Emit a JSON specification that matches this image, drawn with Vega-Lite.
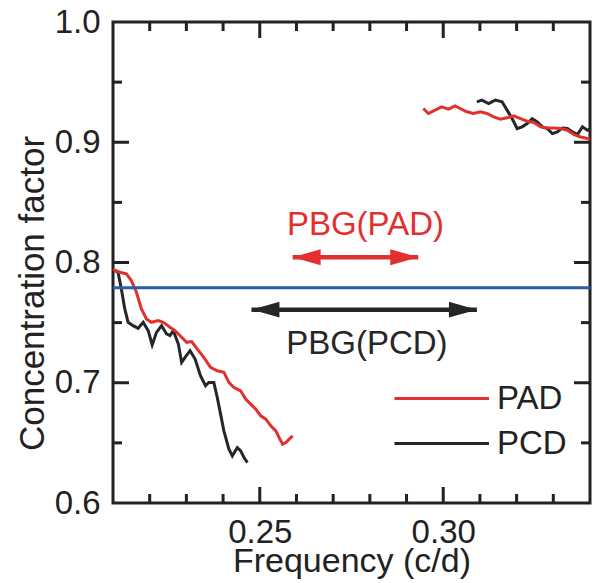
{
  "$schema": "https://vega.github.io/schema/vega-lite/v6.json",
  "width": 477,
  "height": 481,
  "autosize": {"type": "none"},
  "padding": {"left": 113, "top": 22, "right": 5, "bottom": 80},
  "background": "white",
  "config": {
    "view": {"stroke": "#222222", "strokeWidth": 3},
    "axis": {
      "grid": false, "domain": false, "ticks": false, "zindex": 1,
      "labelFont": "Liberation Sans", "titleFont": "Liberation Sans",
      "labelColor": "#222222", "titleColor": "#222222",
      "labelFontSize": 33, "titleFontSize": 34, "titleFontWeight": "normal",
      "labelFlush": false, "labelOverlap": false
    },
    "tick": {"opacity": 1, "color": "#222222", "thickness": 3},
    "text": {"font": "Liberation Sans"}
  },
  "datasets": {
    "curves": [
      {"series": "PCD", "seg": "low", "f": 0.21047, "c": 0.7933},
      {"series": "PCD", "seg": "low", "f": 0.21137, "c": 0.7919},
      {"series": "PCD", "seg": "low", "f": 0.21227, "c": 0.7781},
      {"series": "PCD", "seg": "low", "f": 0.21321, "c": 0.7614},
      {"series": "PCD", "seg": "low", "f": 0.21411, "c": 0.7503},
      {"series": "PCD", "seg": "low", "f": 0.21548, "c": 0.7475},
      {"series": "PCD", "seg": "low", "f": 0.21685, "c": 0.7453},
      {"series": "PCD", "seg": "low", "f": 0.21822, "c": 0.7503},
      {"series": "PCD", "seg": "low", "f": 0.21959, "c": 0.7433},
      {"series": "PCD", "seg": "low", "f": 0.22068, "c": 0.7314},
      {"series": "PCD", "seg": "low", "f": 0.22186, "c": 0.7419},
      {"series": "PCD", "seg": "low", "f": 0.22323, "c": 0.7475},
      {"series": "PCD", "seg": "low", "f": 0.22460, "c": 0.7406},
      {"series": "PCD", "seg": "low", "f": 0.22553, "c": 0.7392},
      {"series": "PCD", "seg": "low", "f": 0.22644, "c": 0.7433},
      {"series": "PCD", "seg": "low", "f": 0.22781, "c": 0.7322},
      {"series": "PCD", "seg": "low", "f": 0.22871, "c": 0.7169},
      {"series": "PCD", "seg": "low", "f": 0.22964, "c": 0.7211},
      {"series": "PCD", "seg": "low", "f": 0.23101, "c": 0.7267},
      {"series": "PCD", "seg": "low", "f": 0.23238, "c": 0.7197},
      {"series": "PCD", "seg": "low", "f": 0.23384, "c": 0.7058},
      {"series": "PCD", "seg": "low", "f": 0.23521, "c": 0.6975},
      {"series": "PCD", "seg": "low", "f": 0.23611, "c": 0.7003},
      {"series": "PCD", "seg": "low", "f": 0.23748, "c": 0.7003},
      {"series": "PCD", "seg": "low", "f": 0.23841, "c": 0.6878},
      {"series": "PCD", "seg": "low", "f": 0.23932, "c": 0.6739},
      {"series": "PCD", "seg": "low", "f": 0.24022, "c": 0.6600},
      {"series": "PCD", "seg": "low", "f": 0.24159, "c": 0.6447},
      {"series": "PCD", "seg": "low", "f": 0.24252, "c": 0.6392},
      {"series": "PCD", "seg": "low", "f": 0.24389, "c": 0.6461},
      {"series": "PCD", "seg": "low", "f": 0.24479, "c": 0.6433},
      {"series": "PCD", "seg": "low", "f": 0.24570, "c": 0.6378},
      {"series": "PCD", "seg": "low", "f": 0.24663, "c": 0.6336},
      {"series": "PCD", "seg": "high", "f": 0.30918, "c": 0.9336},
      {"series": "PCD", "seg": "high", "f": 0.31055, "c": 0.9350},
      {"series": "PCD", "seg": "high", "f": 0.31238, "c": 0.9322},
      {"series": "PCD", "seg": "high", "f": 0.31419, "c": 0.9350},
      {"series": "PCD", "seg": "high", "f": 0.31603, "c": 0.9336},
      {"series": "PCD", "seg": "high", "f": 0.31740, "c": 0.9267},
      {"series": "PCD", "seg": "high", "f": 0.31877, "c": 0.9197},
      {"series": "PCD", "seg": "high", "f": 0.32014, "c": 0.9114},
      {"series": "PCD", "seg": "high", "f": 0.32151, "c": 0.9128},
      {"series": "PCD", "seg": "high", "f": 0.32288, "c": 0.9156},
      {"series": "PCD", "seg": "high", "f": 0.32425, "c": 0.9197},
      {"series": "PCD", "seg": "high", "f": 0.32562, "c": 0.9169},
      {"series": "PCD", "seg": "high", "f": 0.32699, "c": 0.9128},
      {"series": "PCD", "seg": "high", "f": 0.32836, "c": 0.9114},
      {"series": "PCD", "seg": "high", "f": 0.32973, "c": 0.9072},
      {"series": "PCD", "seg": "high", "f": 0.33110, "c": 0.9086},
      {"series": "PCD", "seg": "high", "f": 0.33247, "c": 0.9119},
      {"series": "PCD", "seg": "high", "f": 0.33384, "c": 0.9114},
      {"series": "PCD", "seg": "high", "f": 0.33521, "c": 0.9086},
      {"series": "PCD", "seg": "high", "f": 0.33658, "c": 0.9064},
      {"series": "PCD", "seg": "high", "f": 0.33795, "c": 0.9128},
      {"series": "PCD", "seg": "high", "f": 0.33932, "c": 0.9100},
      {"series": "PCD", "seg": "high", "f": 0.34068, "c": 0.9119},
      {"series": "PAD", "seg": "low", "f": 0.21000, "c": 0.7942},
      {"series": "PAD", "seg": "low", "f": 0.21184, "c": 0.7919},
      {"series": "PAD", "seg": "low", "f": 0.21364, "c": 0.7906},
      {"series": "PAD", "seg": "low", "f": 0.21501, "c": 0.7850},
      {"series": "PAD", "seg": "low", "f": 0.21638, "c": 0.7753},
      {"series": "PAD", "seg": "low", "f": 0.21775, "c": 0.7614},
      {"series": "PAD", "seg": "low", "f": 0.21912, "c": 0.7531},
      {"series": "PAD", "seg": "low", "f": 0.22049, "c": 0.7503},
      {"series": "PAD", "seg": "low", "f": 0.22233, "c": 0.7517},
      {"series": "PAD", "seg": "low", "f": 0.22370, "c": 0.7503},
      {"series": "PAD", "seg": "low", "f": 0.22553, "c": 0.7461},
      {"series": "PAD", "seg": "low", "f": 0.22690, "c": 0.7433},
      {"series": "PAD", "seg": "low", "f": 0.22871, "c": 0.7378},
      {"series": "PAD", "seg": "low", "f": 0.23008, "c": 0.7336},
      {"series": "PAD", "seg": "low", "f": 0.23145, "c": 0.7342},
      {"series": "PAD", "seg": "low", "f": 0.23293, "c": 0.7281},
      {"series": "PAD", "seg": "low", "f": 0.23474, "c": 0.7211},
      {"series": "PAD", "seg": "low", "f": 0.23658, "c": 0.7128},
      {"series": "PAD", "seg": "low", "f": 0.23841, "c": 0.7100},
      {"series": "PAD", "seg": "low", "f": 0.24022, "c": 0.7086},
      {"series": "PAD", "seg": "low", "f": 0.24159, "c": 0.7003},
      {"series": "PAD", "seg": "low", "f": 0.24296, "c": 0.6961},
      {"series": "PAD", "seg": "low", "f": 0.24479, "c": 0.6933},
      {"series": "PAD", "seg": "low", "f": 0.24616, "c": 0.6864},
      {"series": "PAD", "seg": "low", "f": 0.24753, "c": 0.6822},
      {"series": "PAD", "seg": "low", "f": 0.24890, "c": 0.6781},
      {"series": "PAD", "seg": "low", "f": 0.25027, "c": 0.6725},
      {"series": "PAD", "seg": "low", "f": 0.25164, "c": 0.6697},
      {"series": "PAD", "seg": "low", "f": 0.25301, "c": 0.6642},
      {"series": "PAD", "seg": "low", "f": 0.25438, "c": 0.6600},
      {"series": "PAD", "seg": "low", "f": 0.25529, "c": 0.6544},
      {"series": "PAD", "seg": "low", "f": 0.25622, "c": 0.6489},
      {"series": "PAD", "seg": "low", "f": 0.25712, "c": 0.6503},
      {"series": "PAD", "seg": "low", "f": 0.25803, "c": 0.6531},
      {"series": "PAD", "seg": "low", "f": 0.25896, "c": 0.6558},
      {"series": "PAD", "seg": "high", "f": 0.29458, "c": 0.9281},
      {"series": "PAD", "seg": "high", "f": 0.29595, "c": 0.9239},
      {"series": "PAD", "seg": "high", "f": 0.29775, "c": 0.9267},
      {"series": "PAD", "seg": "high", "f": 0.29959, "c": 0.9294},
      {"series": "PAD", "seg": "high", "f": 0.30142, "c": 0.9275},
      {"series": "PAD", "seg": "high", "f": 0.30323, "c": 0.9303},
      {"series": "PAD", "seg": "high", "f": 0.30460, "c": 0.9281},
      {"series": "PAD", "seg": "high", "f": 0.30644, "c": 0.9253},
      {"series": "PAD", "seg": "high", "f": 0.30827, "c": 0.9239},
      {"series": "PAD", "seg": "high", "f": 0.31008, "c": 0.9253},
      {"series": "PAD", "seg": "high", "f": 0.31192, "c": 0.9239},
      {"series": "PAD", "seg": "high", "f": 0.31375, "c": 0.9211},
      {"series": "PAD", "seg": "high", "f": 0.31556, "c": 0.9192},
      {"series": "PAD", "seg": "high", "f": 0.31740, "c": 0.9203},
      {"series": "PAD", "seg": "high", "f": 0.31923, "c": 0.9219},
      {"series": "PAD", "seg": "high", "f": 0.32104, "c": 0.9197},
      {"series": "PAD", "seg": "high", "f": 0.32288, "c": 0.9175},
      {"series": "PAD", "seg": "high", "f": 0.32471, "c": 0.9164},
      {"series": "PAD", "seg": "high", "f": 0.32652, "c": 0.9128},
      {"series": "PAD", "seg": "high", "f": 0.32836, "c": 0.9119},
      {"series": "PAD", "seg": "high", "f": 0.33019, "c": 0.9119},
      {"series": "PAD", "seg": "high", "f": 0.33200, "c": 0.9114},
      {"series": "PAD", "seg": "high", "f": 0.33384, "c": 0.9100},
      {"series": "PAD", "seg": "high", "f": 0.33567, "c": 0.9064},
      {"series": "PAD", "seg": "high", "f": 0.33748, "c": 0.9044},
      {"series": "PAD", "seg": "high", "f": 0.33932, "c": 0.9031},
      {"series": "PAD", "seg": "high", "f": 0.34115, "c": 0.9017}
    ],
    "arrows": [
      {"series": "PAD", "x1": 0.25896, "x2": 0.2932, "y": 0.8044},
      {"series": "PCD", "x1": 0.24773, "x2": 0.30918, "y": 0.7608}
    ],
    "labels": [
      {"series": "PAD", "label": "PBG(PAD)", "f": 0.2788, "c": 0.8308},
      {"series": "PCD", "label": "PBG(PCD)", "f": 0.2792, "c": 0.7325}
    ],
    "legend": [
      {"series": "PAD", "f1": 0.28671, "f2": 0.31247, "ft": 0.31466, "c": 0.6869},
      {"series": "PCD", "f1": 0.28671, "f2": 0.31247, "ft": 0.31466, "c": 0.6494}
    ],
    "xticks": [
      {"v": 0.22, "kind": "minor"}, {"v": 0.23, "kind": "minor"}, {"v": 0.24, "kind": "minor"},
      {"v": 0.25, "kind": "major"}, {"v": 0.26, "kind": "minor"}, {"v": 0.27, "kind": "minor"},
      {"v": 0.28, "kind": "minor"}, {"v": 0.29, "kind": "minor"}, {"v": 0.30, "kind": "major"},
      {"v": 0.31, "kind": "minor"}, {"v": 0.32, "kind": "minor"}, {"v": 0.33, "kind": "minor"}
    ],
    "yticks": [
      {"v": 0.65, "kind": "minor"}, {"v": 0.70, "kind": "major"}, {"v": 0.75, "kind": "minor"},
      {"v": 0.80, "kind": "major"}, {"v": 0.85, "kind": "minor"}, {"v": 0.90, "kind": "major"},
      {"v": 0.95, "kind": "minor"}
    ]
  },
  "layer": [
    {
      "data": {"name": "curves"},
      "transform": [{"filter": "datum.series === 'PCD'"}],
      "mark": {"type": "line", "color": "#262626", "strokeWidth": 3, "clip": true},
      "encoding": {
        "x": {"field": "f", "type": "quantitative",
              "scale": {"domain": [0.21, 0.34], "nice": false, "zero": false},
              "axis": {"orient": "bottom", "values": [0.25, 0.3], "format": ".2f", "labelPadding": 13, "title": "Frequency (c/d)", "titleBaseline": "top", "titleY": 41}},
        "y": {"field": "c", "type": "quantitative",
              "scale": {"domain": [0.6, 1.0], "nice": false, "zero": false},
              "axis": {"orient": "left", "values": [0.6, 0.7, 0.8, 0.9, 1.0], "format": ".1f", "labelPadding": 13, "title": "Concentration factor", "titleFontSize": 35, "titlePadding": 4, "titleY": 271}},
        "detail": {"field": "seg"}
      }
    },
    {
      "data": {"name": "curves"},
      "transform": [{"filter": "datum.series === 'PAD'"}],
      "mark": {"type": "line", "color": "#e2302f", "strokeWidth": 3, "clip": true},
      "encoding": {
        "x": {"field": "f", "type": "quantitative"},
        "y": {"field": "c", "type": "quantitative"},
        "detail": {"field": "seg"}
      }
    },
    {
      "data": {"values": [{"c": 0.779}]},
      "mark": {"type": "rule", "color": "#2b5ea8", "strokeWidth": 3},
      "encoding": {
        "y": {"field": "c", "type": "quantitative"}
      }
    },
    {
      "data": {"name": "arrows"},
      "mark": {"type": "rule", "strokeWidth": 4.5},
      "encoding": {
        "x": {"field": "x1", "type": "quantitative"},
        "x2": {"field": "x2"},
        "y": {"field": "y", "type": "quantitative"},
        "color": {"field": "series", "type": "nominal", "scale": {"domain": ["PAD", "PCD"], "range": ["#e2302f", "#262626"]}, "legend": null}
      }
    },
    {
      "data": {"name": "arrows"},
      "mark": {"type": "point", "shape": "M0,0L2,-0.57L2,0.57Z", "size": 784, "filled": true, "opacity": 1, "strokeWidth": 0},
      "encoding": {
        "x": {"field": "x1", "type": "quantitative"},
        "y": {"field": "y", "type": "quantitative"},
        "color": {"field": "series", "type": "nominal", "legend": null}
      }
    },
    {
      "data": {"name": "arrows"},
      "mark": {"type": "point", "shape": "M0,0L-2,-0.57L-2,0.57Z", "size": 784, "filled": true, "opacity": 1, "strokeWidth": 0},
      "encoding": {
        "x": {"field": "x2", "type": "quantitative"},
        "y": {"field": "y", "type": "quantitative"},
        "color": {"field": "series", "type": "nominal", "legend": null}
      }
    },
    {
      "data": {"name": "labels"},
      "mark": {"type": "text", "fontSize": 33, "align": "center", "baseline": "middle", "font": "Liberation Sans"},
      "encoding": {
        "x": {"field": "f", "type": "quantitative"},
        "y": {"field": "c", "type": "quantitative"},
        "text": {"field": "label"},
        "color": {"field": "series", "type": "nominal", "legend": null}
      }
    },
    {
      "data": {"name": "legend"},
      "mark": {"type": "rule", "strokeWidth": 3},
      "encoding": {
        "x": {"field": "f1", "type": "quantitative"},
        "x2": {"field": "f2"},
        "y": {"field": "c", "type": "quantitative"},
        "color": {"field": "series", "type": "nominal", "legend": null}
      }
    },
    {
      "data": {"name": "legend"},
      "mark": {"type": "text", "fontSize": 33, "align": "left", "baseline": "middle", "font": "Liberation Sans", "color": "#222222"},
      "encoding": {
        "x": {"field": "ft", "type": "quantitative"},
        "y": {"field": "c", "type": "quantitative"},
        "text": {"field": "series"}
      }
    },
    {
      "data": {"name": "xticks"},
      "transform": [{"filter": "datum.kind === 'major'"}],
      "mark": {"type": "tick", "orient": "vertical", "size": 16, "yOffset": -8},
      "encoding": {"x": {"field": "v", "type": "quantitative"}, "y": {"datum": 0.6, "type": "quantitative"}}
    },
    {
      "data": {"name": "xticks"},
      "transform": [{"filter": "datum.kind === 'minor'"}],
      "mark": {"type": "tick", "orient": "vertical", "size": 9, "yOffset": -4.5},
      "encoding": {"x": {"field": "v", "type": "quantitative"}, "y": {"datum": 0.6, "type": "quantitative"}}
    },
    {
      "data": {"name": "xticks"},
      "transform": [{"filter": "datum.kind === 'major'"}],
      "mark": {"type": "tick", "orient": "vertical", "size": 16, "yOffset": 8},
      "encoding": {"x": {"field": "v", "type": "quantitative"}, "y": {"datum": 1.0, "type": "quantitative"}}
    },
    {
      "data": {"name": "xticks"},
      "transform": [{"filter": "datum.kind === 'minor'"}],
      "mark": {"type": "tick", "orient": "vertical", "size": 9, "yOffset": 4.5},
      "encoding": {"x": {"field": "v", "type": "quantitative"}, "y": {"datum": 1.0, "type": "quantitative"}}
    },
    {
      "data": {"name": "yticks"},
      "transform": [{"filter": "datum.kind === 'major'"}],
      "mark": {"type": "tick", "orient": "horizontal", "size": 16, "xOffset": 8},
      "encoding": {"y": {"field": "v", "type": "quantitative"}, "x": {"datum": 0.21, "type": "quantitative"}}
    },
    {
      "data": {"name": "yticks"},
      "transform": [{"filter": "datum.kind === 'minor'"}],
      "mark": {"type": "tick", "orient": "horizontal", "size": 9, "xOffset": 4.5},
      "encoding": {"y": {"field": "v", "type": "quantitative"}, "x": {"datum": 0.21, "type": "quantitative"}}
    },
    {
      "data": {"name": "yticks"},
      "transform": [{"filter": "datum.kind === 'major'"}],
      "mark": {"type": "tick", "orient": "horizontal", "size": 16, "xOffset": -8},
      "encoding": {"y": {"field": "v", "type": "quantitative"}, "x": {"datum": 0.34, "type": "quantitative"}}
    },
    {
      "data": {"name": "yticks"},
      "transform": [{"filter": "datum.kind === 'minor'"}],
      "mark": {"type": "tick", "orient": "horizontal", "size": 9, "xOffset": -4.5},
      "encoding": {"y": {"field": "v", "type": "quantitative"}, "x": {"datum": 0.34, "type": "quantitative"}}
    }
  ]
}
